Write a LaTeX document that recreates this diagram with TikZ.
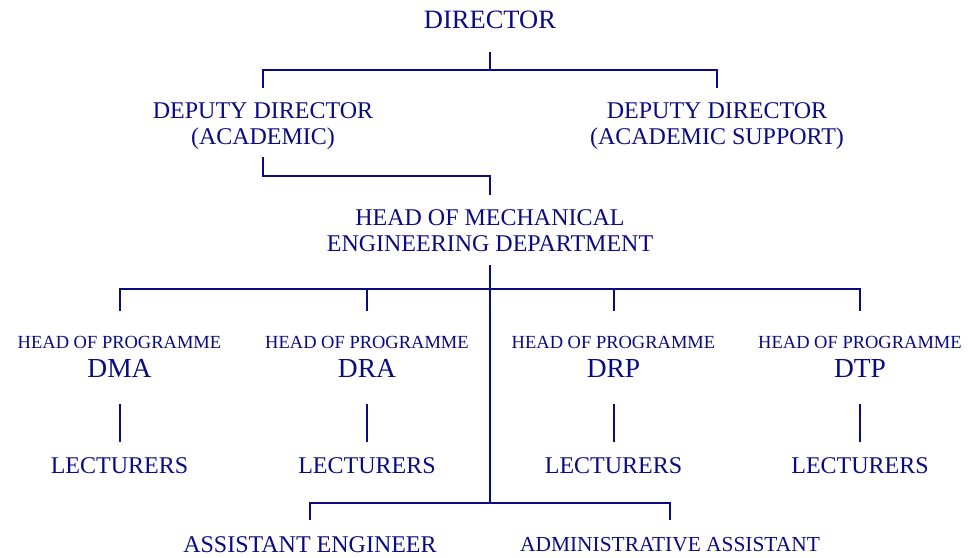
\documentclass[tikz,border=0pt]{standalone}
\usepackage{fontspec}
\setmainfont{Liberation Serif}
\definecolor{navyink}{RGB}{10,10,130}
\begin{document}
\begin{tikzpicture}[x=1pt,y=-1pt,
  lbl/.style={text=navyink,inner sep=0pt,anchor=base,align=center,font=\fontsize{24}{26}\selectfont},
  big/.style={lbl,font=\fontsize{26.5}{28}\selectfont},
  small/.style={lbl,font=\fontsize{18.5}{20}\selectfont},
  mid/.style={lbl,font=\fontsize{21.4}{23}\selectfont},
  prog/.style={lbl,font=\fontsize{27.5}{29}\selectfont},
  wire/.style={draw=navyink,line width=2pt},
  trunk/.style={draw=navyink,line width=2.8pt}]
\useasboundingbox (0,0) rectangle (968,557);
% labels
\node[big] (dir) at (490,28.3) {DIRECTOR};
\node[lbl] (dda) at (263,144) {DEPUTY DIRECTOR\\(ACADEMIC)};
\node[lbl] (dds) at (717,144) {DEPUTY DIRECTOR\\(ACADEMIC SUPPORT)};
\node[lbl] (hod) at (490,251) {HEAD OF MECHANICAL\\ENGINEERING DEPARTMENT};
\node[small] (hp1) at (119.5,348) {HEAD OF PROGRAMME};
\node[small] (hp2) at (367,348) {HEAD OF PROGRAMME};
\node[small] (hp3) at (613.5,348) {HEAD OF PROGRAMME};
\node[small] (hp4) at (860,348) {HEAD OF PROGRAMME};
\node[prog] (p1) at (119.5,377) {DMA};
\node[prog] (p2) at (367,377) {DRA};
\node[prog] (p3) at (613.5,377) {DRP};
\node[prog] (p4) at (860,377) {DTP};
\node[lbl] (l1) at (119.5,473) {LECTURERS};
\node[lbl] (l2) at (367,473) {LECTURERS};
\node[lbl] (l3) at (613.5,473) {LECTURERS};
\node[lbl] (l4) at (860,473) {LECTURERS};
\node[lbl] (ae) at (310,552) {ASSISTANT ENGINEER};
\node[mid] (aa) at (670,551) {ADMINISTRATIVE ASSISTANT};
% connector points
\coordinate (dirB) at (490,52);
\coordinate (dirJ) at (490,70);
\coordinate (ddaT) at (263,88);
\coordinate (ddsT) at (717,88);
\coordinate (ddaB) at (263,157);
\coordinate (hodT) at (490,195);
\coordinate (hodB) at (490,265);
\coordinate (busE) at (490,503);
\coordinate (c1) at (119.5,311);
\coordinate (c2) at (367,311);
\coordinate (c3) at (613.5,311);
\coordinate (c4) at (860,311);
\coordinate (u1) at (119.5,404);
\coordinate (u2) at (367,404);
\coordinate (u3) at (613.5,404);
\coordinate (u4) at (860,404);
\coordinate (v1) at (119.5,442);
\coordinate (v2) at (367,442);
\coordinate (v3) at (613.5,442);
\coordinate (v4) at (860,442);
\coordinate (aeT) at (310,520);
\coordinate (aaT) at (670,520);
% connectors
\draw[wire] (dirB) -- (dirJ);
\draw[wire] (ddaT) |- (dirJ) -| (ddsT);
\draw[wire] (ddaB) |- (hodT |- 0,176) -- (hodT);
\draw[trunk] (hodB) -- (busE);
\draw[wire] (c1) |- (hodB |- 0,289) -| (c4);
\draw[wire] (c2) -- (c2 |- 0,289);
\draw[wire] (c3) -- (c3 |- 0,289);
\draw[wire] (u1) -- (v1);
\draw[wire] (u2) -- (v2);
\draw[wire] (u3) -- (v3);
\draw[wire] (u4) -- (v4);
\draw[wire] (aeT) |- (busE) -| (aaT);
\end{tikzpicture}
\end{document}
